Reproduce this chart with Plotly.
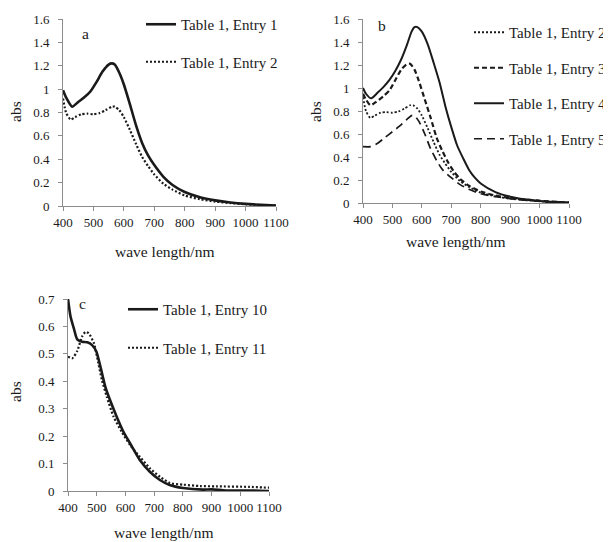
import plotly.graph_objects as go

# ---------------- data ----------------
# Table 1, Entry 1
wl_e1 = [400, 410, 430, 450, 470, 490, 510, 530, 550, 560, 570, 585, 600, 620, 640, 660, 680, 700, 730, 760, 800, 850, 900, 950, 1000, 1050, 1100]
abs_e1 = [0.99, 0.93, 0.85, 0.89, 0.93, 0.98, 1.06, 1.15, 1.21, 1.22, 1.21, 1.14, 1.04, 0.87, 0.69, 0.54, 0.43, 0.35, 0.25, 0.18, 0.12, 0.075, 0.048, 0.03, 0.018, 0.01, 0.004]

# Table 1, Entry 2 (panels a and b)
wl_e2 = [400, 410, 425, 440, 460, 480, 500, 520, 540, 560, 570, 585, 600, 620, 640, 660, 680, 700, 730, 760, 800, 850, 900, 950, 1000, 1050, 1100]
abs_e2 = [0.92, 0.80, 0.74, 0.76, 0.785, 0.79, 0.785, 0.795, 0.82, 0.85, 0.85, 0.82, 0.76, 0.65, 0.53, 0.42, 0.34, 0.27, 0.19, 0.14, 0.09, 0.058, 0.038, 0.025, 0.015, 0.008, 0.003]

# Table 1, Entry 3
wl_e3 = [400, 410, 425, 445, 470, 490, 510, 530, 550, 560, 575, 590, 610, 630, 650, 670, 690, 710, 730, 760, 800, 850, 900, 950, 1000, 1050, 1100]
abs_e3 = [0.95, 0.90, 0.85, 0.88, 0.93, 0.98, 1.07, 1.16, 1.21, 1.21, 1.16, 1.06, 0.90, 0.74, 0.57, 0.45, 0.35, 0.27, 0.21, 0.15, 0.10, 0.065, 0.043, 0.03, 0.02, 0.01, 0.005]

# Table 1, Entry 4
wl_e4 = [400, 410, 428, 450, 470, 490, 510, 530, 550, 565, 575, 585, 600, 620, 640, 660, 680, 700, 720, 740, 760, 780, 800, 850, 900, 950, 1000, 1050, 1100]
abs_e4 = [1.00, 0.95, 0.91, 0.96, 1.01, 1.07, 1.15, 1.25, 1.38, 1.49, 1.53, 1.53, 1.49, 1.38, 1.22, 1.05, 0.84, 0.66, 0.50, 0.39, 0.29, 0.22, 0.17, 0.095, 0.055, 0.032, 0.018, 0.01, 0.005]

# Table 1, Entry 5
wl_e5 = [400, 425, 450, 475, 500, 525, 550, 565, 575, 590, 610, 630, 650, 670, 700, 730, 760, 800, 850, 900, 950, 1000, 1050, 1100]
abs_e5 = [0.49, 0.49, 0.52, 0.57, 0.62, 0.67, 0.73, 0.76, 0.76, 0.71, 0.60, 0.47, 0.37, 0.29, 0.22, 0.16, 0.12, 0.08, 0.055, 0.038, 0.025, 0.015, 0.008, 0.003]

# Table 1, Entry 10
wl_e10 = [400, 409, 421, 432, 449, 467, 484, 499, 513, 530, 547, 570, 593, 616, 650, 685, 720, 754, 800, 870, 900, 950, 1000, 1050, 1100]
abs_e10 = [0.70, 0.635, 0.59, 0.553, 0.544, 0.542, 0.532, 0.508, 0.453, 0.38, 0.33, 0.27, 0.216, 0.174, 0.113, 0.07, 0.04, 0.022, 0.011, 0.005, 0.006, 0.002, 0.002, 0.002, 0.0]

# Table 1, Entry 11
wl_e11 = [400, 415, 432, 449, 461, 472, 490, 501, 518, 535, 559, 587, 616, 650, 685, 720, 755, 802, 860, 917, 1032, 1100]
abs_e11 = [0.49, 0.484, 0.51, 0.563, 0.58, 0.575, 0.54, 0.49, 0.405, 0.344, 0.27, 0.216, 0.168, 0.125, 0.083, 0.052, 0.029, 0.023, 0.018, 0.017, 0.015, 0.012]

x_ticks = [400, 500, 600, 700, 800, 900, 1000, 1100]
y_ticks_ab = [0, 0.2, 0.4, 0.6, 0.8, 1, 1.2, 1.4, 1.6]
y_ticks_ab_text = ["0", "0.2", "0.4", "0.6", "0.8", "1", "1.2", "1.4", "1.6"]
y_ticks_c = [0, 0.1, 0.2, 0.3, 0.4, 0.5, 0.6, 0.7]
y_ticks_c_text = ["0", "0.1", "0.2", "0.3", "0.4", "0.5", "0.6", "0.7"]

# ---------------- figure ----------------
PAGE_W, PAGE_H = 611, 542
OFF = 8  # default body margin of the html page
W, H = PAGE_W - OFF, PAGE_H - OFF
FONT = "Liberation Serif"
INK = "#1a1a1a"
AX = "#8c8c8c"


def px_x(p):
    """page pixel x -> paper fraction"""
    return (p - OFF) / W


def px_y(p):
    """page pixel y -> paper fraction"""
    return 1 - (p - OFF) / H


fig = go.Figure()


def add(x, y, name, dash, width, xa, ya, legend, group):
    fig.add_trace(go.Scatter(
        x=x, y=y, name=name, mode="lines",
        line=dict(color=INK, width=width, dash=dash, shape="spline", smoothing=0.6),
        xaxis=xa, yaxis=ya, legend=legend, legendgroup=group,
    ))


# panel a
add(wl_e1, abs_e1, "Table 1, Entry 1", "solid", 2.6, "x", "y", "legend", "a1")
add(wl_e2, abs_e2, "Table 1, Entry 2", "2px,2px", 2.2, "x", "y", "legend", "a2")
# panel b
add(wl_e2, abs_e2, "Table 1, Entry 2", "2px,2px", 1.8, "x2", "y2", "legend2", "b2")
add(wl_e3, abs_e3, "Table 1, Entry 3", "5px,3px", 2.2, "x2", "y2", "legend2", "b3")
add(wl_e4, abs_e4, "Table 1, Entry 4", "solid", 2.0, "x2", "y2", "legend2", "b4")
add(wl_e5, abs_e5, "Table 1, Entry 5", "8px,5px", 1.7, "x2", "y2", "legend2", "b5")
# panel c
add(wl_e10, abs_e10, "Table 1, Entry 10", "solid", 2.6, "x3", "y3", "legend3", "c10")
add(wl_e11, abs_e11, "Table 1, Entry 11", "2px,2px", 2.2, "x3", "y3", "legend3", "c11")

xcommon = dict(range=[400, 1100], tickvals=x_ticks, ticktext=[str(v) for v in x_ticks],
               showline=True, linecolor=AX, linewidth=1, ticks="outside", ticklen=4,
               tickcolor=AX, showgrid=False, zeroline=False, tickangle=0, automargin=False,
               tickfont=dict(family=FONT, size=13, color=INK))
ycommon = dict(showline=True, linecolor=AX, linewidth=1, ticks="outside", ticklen=4,
               tickcolor=AX, showgrid=False, zeroline=False, automargin=False,
               ticklabelstandoff=6,
               tickfont=dict(family=FONT, size=13, color=INK))

leg = dict(font=dict(family=FONT, size=15, color=INK), bgcolor="rgba(0,0,0,0)",
           yanchor="top", traceorder="grouped", itemwidth=30)

fig.update_layout(
    width=W, height=H, margin=dict(l=0, r=0, t=0, b=0, autoexpand=False),
    paper_bgcolor="white", plot_bgcolor="white",
    xaxis=dict(domain=[px_x(63), px_x(276)], anchor="y", **xcommon),
    yaxis=dict(domain=[px_y(206), px_y(19)], anchor="x", range=[0, 1.6],
               tickvals=y_ticks_ab, ticktext=y_ticks_ab_text, **ycommon),
    xaxis2=dict(domain=[px_x(363), px_x(569)], anchor="y2", **xcommon),
    yaxis2=dict(domain=[px_y(203), px_y(19)], anchor="x2", range=[0, 1.6],
                tickvals=y_ticks_ab, ticktext=y_ticks_ab_text, **ycommon),
    xaxis3=dict(domain=[px_x(68), px_x(269)], anchor="y3", **xcommon),
    yaxis3=dict(domain=[px_y(491), px_y(299)], anchor="x3", range=[0, 0.7],
                tickvals=y_ticks_c, ticktext=y_ticks_c_text, **ycommon),
    legend=dict(x=px_x(141), y=px_y(8), xanchor="left", tracegroupgap=15, **leg),
    legend2=dict(x=1, y=px_y(16), xanchor="right", tracegroupgap=13, **leg),
    legend3=dict(x=px_x(123), y=px_y(293), xanchor="left", tracegroupgap=16, **leg),
)

annots = [
    # panel letters
    dict(text="a", x=px_x(85), y=px_y(33)),
    dict(text="b", x=px_x(382), y=px_y(26)),
    dict(text="c", x=px_x(82), y=px_y(303)),
    # axis titles
    dict(text="wave length/nm", x=px_x(164), y=px_y(251)),
    dict(text="wave length/nm", x=px_x(455), y=px_y(242)),
    dict(text="wave length/nm", x=px_x(163), y=px_y(532)),
    dict(text="abs", x=px_x(15), y=px_y(111), textangle=-90),
    dict(text="abs", x=px_x(315), y=px_y(112), textangle=-90),
    dict(text="abs", x=px_x(15), y=px_y(391), textangle=-90),
]
for a in annots:
    fig.add_annotation(xref="paper", yref="paper", showarrow=False,
                       xanchor="center", yanchor="middle",
                       font=dict(family=FONT, size=15.5, color=INK), **a)

fig.write_html("out.html")
